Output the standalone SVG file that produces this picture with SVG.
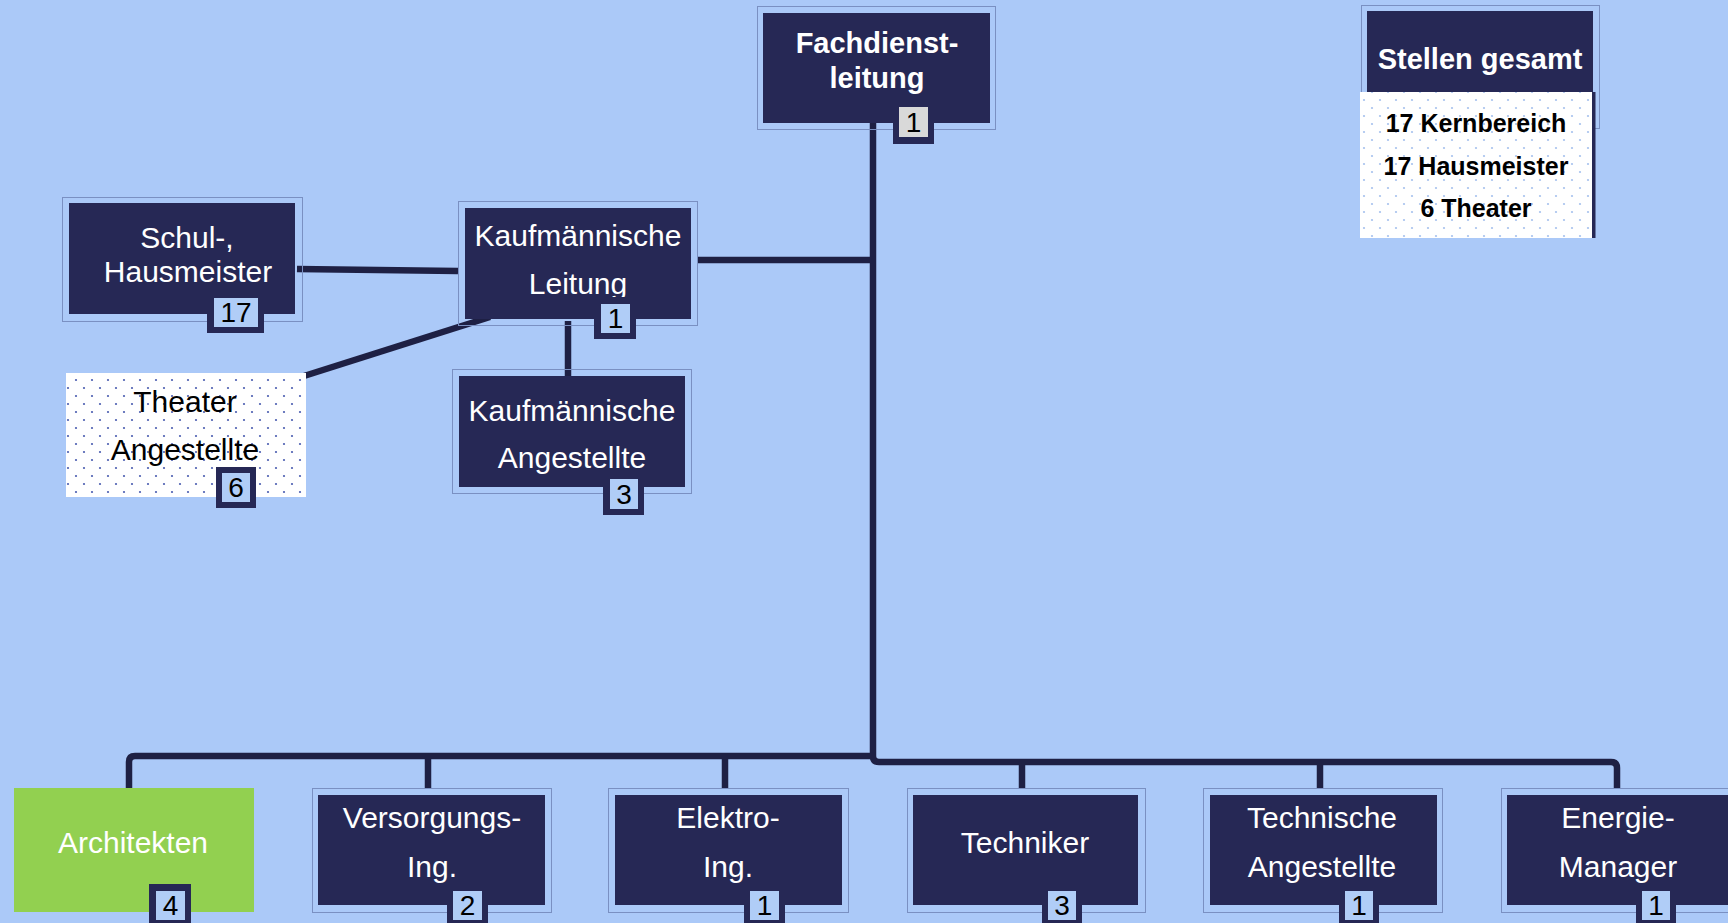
<svg xmlns="http://www.w3.org/2000/svg" width="1728" height="923" viewBox="0 0 1728 923">
<defs>
<style>
.bg{fill:#abc9f8}
.frame{fill:none;stroke:#7a90c2;stroke-width:1}
.box{fill:#262855}
.con{fill:none;stroke:#1e2044;stroke-width:6.5;stroke-linejoin:round}
.t{font-family:"Liberation Sans",Arial,sans-serif;font-size:30px;fill:#ffffff;text-anchor:middle}
.tb{font-family:"Liberation Sans",Arial,sans-serif;font-size:29px;font-weight:bold;fill:#ffffff;text-anchor:middle}
.tk{font-family:"Liberation Sans",Arial,sans-serif;font-size:30px;fill:#000000;text-anchor:middle}
.tc{font-family:"Liberation Sans",Arial,sans-serif;font-size:25px;font-weight:bold;fill:#000000;text-anchor:middle}
.bo{fill:#262855}
.bi{fill:#b0cdf7}
.bn{font-family:"Liberation Sans",Arial,sans-serif;font-size:28px;fill:#000000;text-anchor:middle}
</style>
<pattern id="dotsDark" x="0" y="0" width="16" height="16" patternUnits="userSpaceOnUse">
<rect width="16" height="16" fill="#ffffff"/>
<circle cx="4" cy="4" r="1.1" fill="#4a5db0"/>
<circle cx="12" cy="12" r="1.1" fill="#4a5db0"/>
</pattern>
<pattern id="dotsLight" x="0" y="0" width="16" height="16" patternUnits="userSpaceOnUse">
<rect width="16" height="16" fill="#ffffff"/>
<circle cx="4" cy="4" r="1.1" fill="#a6c2ee"/>
<circle cx="12" cy="12" r="1.1" fill="#a6c2ee"/>
</pattern>
</defs>
<rect class="bg" x="0" y="0" width="1728" height="923"/>

<g id="connectors">
<path class="con" d="M873,123 V756 Q873,762 879,762 H1611 Q1617,762 1617,768 V788"/>
<path class="con" d="M873,756 H135 Q129,756 129,762 V788"/>
<path class="con" d="M428,756 V788"/>
<path class="con" d="M725,756 V788"/>
<path class="con" d="M1022,762 V788"/>
<path class="con" d="M1320,762 V788"/>
<path class="con" d="M697,260 H873"/>
<path class="con" d="M297,269 L458,271"/>
<path class="con" d="M490,317 L304,376"/>
<path class="con" d="M568,321 V379"/>
</g>

<g id="fachdienstleitung">
<rect class="frame" x="757.5" y="6.5" width="238" height="123"/>
<rect class="box" x="763" y="13" width="227" height="110"/>
<text class="tb" x="877" y="53">Fachdienst-</text>
<text class="tb" x="877" y="88">leitung</text>
<rect class="bo" x="893" y="102" width="41" height="42"/>
<rect x="899" y="107" width="29" height="30" fill="#d9d9d9"/>
<text class="bn" x="913.5" y="132">1</text>
</g>

<g id="schul-hausmeister">
<rect class="frame" x="62.5" y="197.5" width="240" height="124"/>
<rect class="box" x="69" y="203" width="226" height="111"/>
<text class="t" x="187" y="248">Schul-,</text>
<text class="t" x="188" y="282">Hausmeister</text>
<rect class="bo" x="207" y="291" width="57" height="42"/>
<rect class="bi" x="214" y="298" width="44" height="29"/>
<text class="bn" x="236" y="322">17</text>
</g>

<g id="kaufm-leitung">
<rect class="frame" x="458.5" y="201.5" width="239" height="124"/>
<rect class="box" x="465" y="208" width="226" height="111"/>
<text class="t" x="578" y="246">Kaufmännische</text>
<text class="t" x="578" y="294">Leitung</text>
<rect class="bo" x="594" y="297" width="42" height="42"/>
<rect class="bi" x="601" y="304" width="29" height="29"/>
<text class="bn" x="615.5" y="328">1</text>
</g>

<g id="theater-angestellte">
<rect x="66" y="373" width="240" height="124" fill="url(#dotsDark)"/>
<text class="tk" x="185" y="412">Theater</text>
<text class="tk" x="185" y="460">Angestellte</text>
<rect class="bo" x="216" y="467" width="40" height="41"/>
<rect class="bi" x="222" y="473" width="28" height="29"/>
<text class="bn" x="236" y="497">6</text>
</g>

<g id="kaufm-angestellte">
<rect class="frame" x="452.5" y="369.5" width="239" height="124"/>
<rect class="box" x="459" y="376" width="226" height="111"/>
<text class="t" x="572" y="421">Kaufmännische</text>
<text class="t" x="572" y="468">Angestellte</text>
<rect class="bo" x="603" y="473" width="41" height="42"/>
<rect class="bi" x="610" y="479" width="28" height="30"/>
<text class="bn" x="624" y="504">3</text>
</g>

<g id="stellen-gesamt">
<rect class="frame" x="1361.5" y="5.5" width="238" height="123"/>
<rect class="box" x="1367" y="11" width="226" height="81"/>
<text class="tb" x="1480" y="69">Stellen gesamt</text>
<rect x="1360" y="92" width="235" height="146" fill="url(#dotsLight)"/>
<rect x="1592" y="92" width="3.5" height="146" fill="#262855"/>
<text class="tc" x="1476" y="132">17 Kernbereich</text>
<text class="tc" x="1476" y="175">17 Hausmeister</text>
<text class="tc" x="1476" y="217">6 Theater</text>
</g>

<g id="architekten">
<rect x="14" y="788" width="240" height="124" fill="#92d050"/>
<text class="t" x="133" y="853">Architekten</text>
<rect class="bo" x="149" y="884" width="42" height="46"/>
<rect class="bi" x="156" y="891" width="29" height="29"/>
<text class="bn" x="170.5" y="915">4</text>
</g>

<g id="versorgungs-ing">
<rect class="frame" x="312.5" y="788.5" width="239" height="124"/>
<rect class="box" x="318" y="795" width="227" height="110"/>
<text class="t" x="432" y="828">Versorgungs-</text>
<text class="t" x="432" y="877">Ing.</text>
<rect class="bo" x="447" y="884" width="41" height="46"/>
<rect class="bi" x="453" y="891" width="29" height="29"/>
<text class="bn" x="467.5" y="915">2</text>
</g>

<g id="elektro-ing">
<rect class="frame" x="608.5" y="788.5" width="240" height="124"/>
<rect class="box" x="615" y="795" width="227" height="110"/>
<text class="t" x="728" y="828">Elektro-</text>
<text class="t" x="728" y="877">Ing.</text>
<rect class="bo" x="744" y="884" width="41" height="46"/>
<rect class="bi" x="750" y="891" width="29" height="29"/>
<text class="bn" x="764.5" y="915">1</text>
</g>

<g id="techniker">
<rect class="frame" x="907.5" y="788.5" width="238" height="124"/>
<rect class="box" x="913" y="795" width="225" height="110"/>
<text class="t" x="1025" y="853">Techniker</text>
<rect class="bo" x="1042" y="884" width="40" height="46"/>
<rect class="bi" x="1048" y="891" width="28" height="29"/>
<text class="bn" x="1062" y="915">3</text>
</g>

<g id="technische-angestellte">
<rect class="frame" x="1203.5" y="788.5" width="239" height="124"/>
<rect class="box" x="1210" y="795" width="227" height="110"/>
<text class="t" x="1322" y="828">Technische</text>
<text class="t" x="1322" y="877">Angestellte</text>
<rect class="bo" x="1339" y="884" width="40" height="46"/>
<rect class="bi" x="1345" y="891" width="28" height="29"/>
<text class="bn" x="1359" y="915">1</text>
</g>

<g id="energie-manager">
<rect class="frame" x="1501.5" y="788.5" width="239" height="124"/>
<rect class="box" x="1507" y="795" width="227" height="110"/>
<text class="t" x="1618" y="828">Energie-</text>
<text class="t" x="1618" y="877">Manager</text>
<rect class="bo" x="1636" y="884" width="40" height="46"/>
<rect class="bi" x="1642" y="891" width="28" height="29"/>
<text class="bn" x="1656" y="915">1</text>
</g>
</svg>
